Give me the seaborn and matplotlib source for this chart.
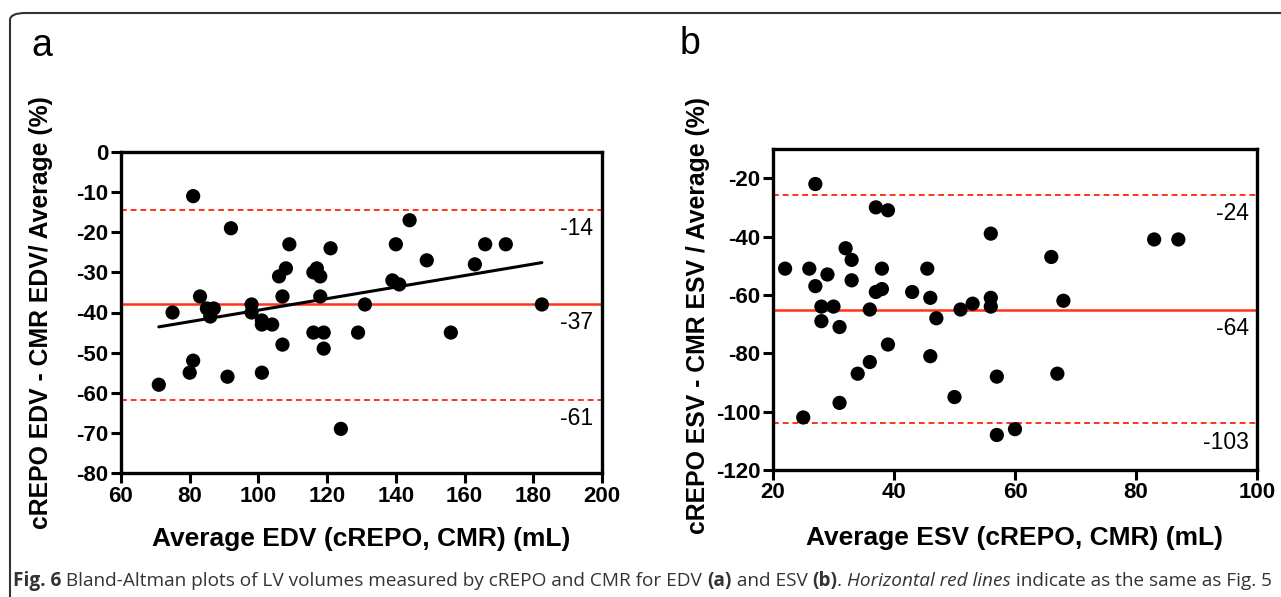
import numpy as np
import pandas as pd
import matplotlib
matplotlib.use('Agg')
import matplotlib.pyplot as plt
import seaborn as sns
from matplotlib.patches import FancyBboxPatch

# panel a: EDV
edv_avg = [71, 75, 81, 83, 80, 81, 85, 87, 86, 92, 91, 98, 98, 101, 101, 101,
           104, 106, 108, 107, 107, 109, 116, 117, 118, 118, 116, 119, 119, 121,
           124, 129, 131, 139, 141, 140, 144, 149, 156, 163, 166, 172, 182.5]
edv_diff = [-58, -40, -11, -36, -55, -52, -39, -39, -41, -19, -56, -38, -40, -42, -43, -55,
            -43, -31, -29, -36, -48, -23, -30, -29, -31, -36, -45, -45, -49, -24,
            -69, -45, -38, -32, -33, -23, -17, -27, -45, -28, -23, -23, -38]
edv_lines = [-14.5, -37.8, -61.9]
edv_labels = ['-14', '-37', '-61']

# panel b: ESV
esv_avg = [22, 27, 25, 26, 27, 29, 28, 28, 30, 31, 31, 32, 33, 33, 34, 36, 36,
           37, 37, 38, 38, 39, 39, 43, 45.5, 46, 46, 47, 50, 51, 53, 56, 56, 56,
           57, 57, 60, 66, 67, 68, 83, 87]
esv_diff = [-51, -22, -102, -51, -57, -53, -64, -69, -64, -71, -97, -44, -48, -55, -87, -65, -83,
            -30, -59, -51, -58, -31, -77, -59, -51, -61, -81, -68, -95, -65, -63, -39, -61, -64,
            -88, -108, -106, -47, -87, -62, -41, -41]
esv_lines = [-25.7, -65.0, -104.0]
esv_labels = ['-24', '-64', '-103']

RED = '#ff3319'
W, H = 1281, 597

sns.set_style('white')
plt.rcParams['font.family'] = ['Liberation Sans', 'DejaVu Sans']
plt.rcParams['text.color'] = 'black'
plt.rcParams['axes.labelcolor'] = 'black'

fig = plt.figure(figsize=(W / 100, H / 100), dpi=100)


def px_axes(left, top, right, bottom):
    return fig.add_axes([left / W, 1 - bottom / H, (right - left) / W, (bottom - top) / H])


def style_axes(ax, xticks, yticks):
    ax.set_xticks(xticks, labels=[str(v) for v in xticks], fontweight='bold', fontsize=16)
    ax.set_yticks(yticks, labels=[str(v) for v in yticks], fontweight='bold', fontsize=16)
    for s in ax.spines.values():
        s.set_linewidth(2.4)
        s.set_color('black')
        s.set_visible(True)
    ax.tick_params(direction='out', length=7, width=2.2, pad=2,
                   colors='black', bottom=True, left=True)


def bland_altman(ax, x, y, lines, labels, xlim, ylim, label_x, label_dy, fit):
    df = pd.DataFrame({'avg': x, 'diff': y})
    upper, mean, lower = lines
    ax.axhline(upper, color=RED, lw=1.4, ls=(0, (3, 2)), zorder=1)
    ax.axhline(lower, color=RED, lw=1.4, ls=(0, (3, 2)), zorder=1)
    ax.axhline(mean, color=RED, lw=1.8, zorder=1)
    sns.scatterplot(data=df, x='avg', y='diff', ax=ax, color='black', s=105,
                    edgecolor='none', zorder=3, legend=False)
    if fit:
        sns.regplot(data=df, x='avg', y='diff', ax=ax, ci=None, truncate=True,
                    scatter=False, line_kws={'color': 'black', 'lw': 2.2, 'zorder': 2})
    for val, txt in zip(lines, labels):
        ax.text(label_x, val - label_dy, txt, ha='right', va='center', fontsize=16.5,
                color='black')
    ax.set_xlim(*xlim)
    ax.set_ylim(*ylim)


ax1 = px_axes(121, 152, 602, 473)
bland_altman(ax1, edv_avg, edv_diff, edv_lines, edv_labels, (60, 200), (-80, 0), 197.5, 4.6, True)
ax1.set_xlabel('Average EDV (cREPO, CMR) (mL)', fontsize=19, fontweight='bold', color='black')
ax1.set_ylabel('cREPO EDV - CMR EDV/ Average (%)', fontsize=17.8, fontweight='bold', color='black')
style_axes(ax1, list(range(60, 201, 20)), list(range(-80, 1, 10)))
ax1.xaxis.set_label_coords(0.5, -0.167)
ax1.yaxis.set_label_coords(-0.141, 0.5)

ax2 = px_axes(773, 149, 1257, 470)
bland_altman(ax2, esv_avg, esv_diff, esv_lines, esv_labels, (20, 100), (-120, -10), 98.6, 6.5, False)
ax2.set_xlabel('Average ESV (cREPO, CMR) (mL)', fontsize=19, fontweight='bold', color='black')
ax2.set_ylabel('cREPO ESV - CMR ESV / Average (%)', fontsize=17.8, fontweight='bold', color='black')
style_axes(ax2, list(range(20, 101, 20)), list(range(-120, -19, 20)))
ax2.xaxis.set_label_coords(0.5, -0.174)
ax2.yaxis.set_label_coords(-0.130, 0.48)

fig.text(42 / W, 1 - 46 / H, 'a', fontsize=27, ha='center', va='center', color='black')
fig.text(690 / W, 1 - 44 / H, 'b', fontsize=27, ha='center', va='center', color='black')

# rounded frame around the figure (runs off right and bottom edges)
fig.patches.append(FancyBboxPatch((10 / W, -0.05), 1.05, 1 - 13 / H + 0.05,
                                  boxstyle='round,pad=0,rounding_size=0.012',
                                  transform=fig.transFigure, fill=False,
                                  edgecolor='#333333', lw=1.5))

# caption with mixed weights
pieces = [('Fig. 6', 'bold', 'normal'),
          (' Bland-Altman plots of LV volumes measured by cREPO and CMR for EDV ', 'normal', 'normal'),
          ('(a)', 'bold', 'normal'),
          (' and ESV ', 'normal', 'normal'),
          ('(b)', 'bold', 'normal'),
          ('. ', 'normal', 'normal'),
          ('Horizontal red lines', 'normal', 'italic'),
          (' indicate as the same as Fig. 5', 'normal', 'normal')]
renderer = fig.canvas.get_renderer()
x = 13
for txt, weight, style in pieces:
    t = fig.text(x / W, 1 - 581 / H, txt, fontsize=13.7, fontweight=weight, fontstyle=style,
                 family=['Open Sans', 'DejaVu Sans'], color='#333333', va='center', ha='left')
    x += t.get_window_extent(renderer).width

fig.savefig('out.png', dpi=100)
